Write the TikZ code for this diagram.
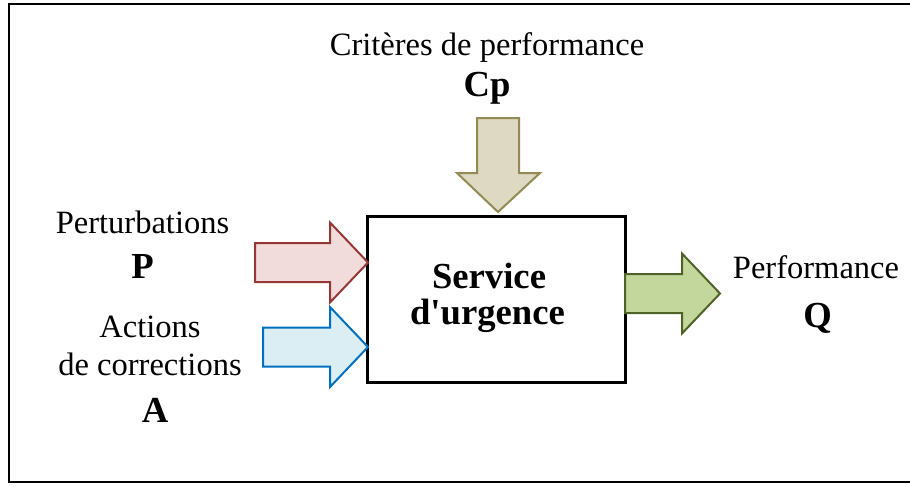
\documentclass[tikz,border=0pt]{standalone}
\usepackage{fontspec}
\setmainfont{Liberation Serif}
\usepackage{tikz}
\usetikzlibrary{calc}
\definecolor{pertfill}{RGB}{242,220,219}
\definecolor{pertline}{RGB}{149,55,53}
\definecolor{actfill}{RGB}{218,238,243}
\definecolor{actline}{RGB}{0,112,192}
\definecolor{critfill}{RGB}{221,217,195}
\definecolor{critline}{RGB}{148,138,84}
\definecolor{perffill}{RGB}{195,214,155}
\definecolor{perfline}{RGB}{79,98,40}
% right block arrow: tail x, mid y, head base x, tip x
\def\rightblock[#1](#2:#3:#4:#5){\draw[#1] (#2,#3-19.5) -- (#4,#3-19.5) -- (#4,#3-40) -- (#5,#3) -- (#4,#3+40) -- (#4,#3+19.5) -- (#2,#3+19.5) -- cycle;}

\begin{document}
\begin{tikzpicture}[x=0.75pt,y=-0.75pt,
		lbl/.style={anchor=base,inner sep=0pt,font=\fontsize{24.4}{29}\selectfont},
		sym/.style={anchor=base,inner sep=0pt,font=\fontsize{27.5}{33}\selectfont\bfseries},
		arrowline/.style={line width=1.5pt,line join=miter}]
		%%%%% START %%%%%
		\useasboundingbox (0,0) rectangle (910,486);
		\draw[line width=1.8pt] (910,4) -- (9,4) -- (9,482) -- (910,482);
		
		\node[draw,line width=2.25pt,minimum width=193.5pt,minimum height=124.5pt,inner sep=0pt] (svc) at (496.5,299.5) {};
		\node[sym] (svc1) at (489,288) {Service};
		\node[sym] (svc2) at (487.5,324) {d\textquotesingle urgence};
		
		\rightblock[arrowline,draw=pertline,fill=pertfill](255:262.5:330:368);
		\rightblock[arrowline,draw=actline,fill=actfill](263:347:330:368);
		\rightblock[arrowline,draw=perfline,fill=perffill](625:293.5:682:720);
		\draw[arrowline,draw=critline,fill=critfill] (477,118) -- (519,118) -- (519,173) -- (540,173) -- (498,212) -- (457,173) -- (477,173) -- cycle;
		
		\node[lbl] (crit) at (487,55) {Critères de performance};
		\node[sym] (cp) at (487,96) {Cp};
		
		\node[lbl] (pert) at (142.5,233) {Perturbations};
		\node[sym] (p) at (142.5,278) {P};
		
		\node[lbl] (act1) at (150,337) {Actions};
		\node[lbl] (act2) at (150,375) {de corrections};
		\node[sym] (a) at (155,422) {A};
		
		\node[lbl] (perf) at (816,278) {Performance};
		\node[sym] (q) at (817.5,327) {Q};
		%%%%% END %%%%%
	\end{tikzpicture}
\end{document}
